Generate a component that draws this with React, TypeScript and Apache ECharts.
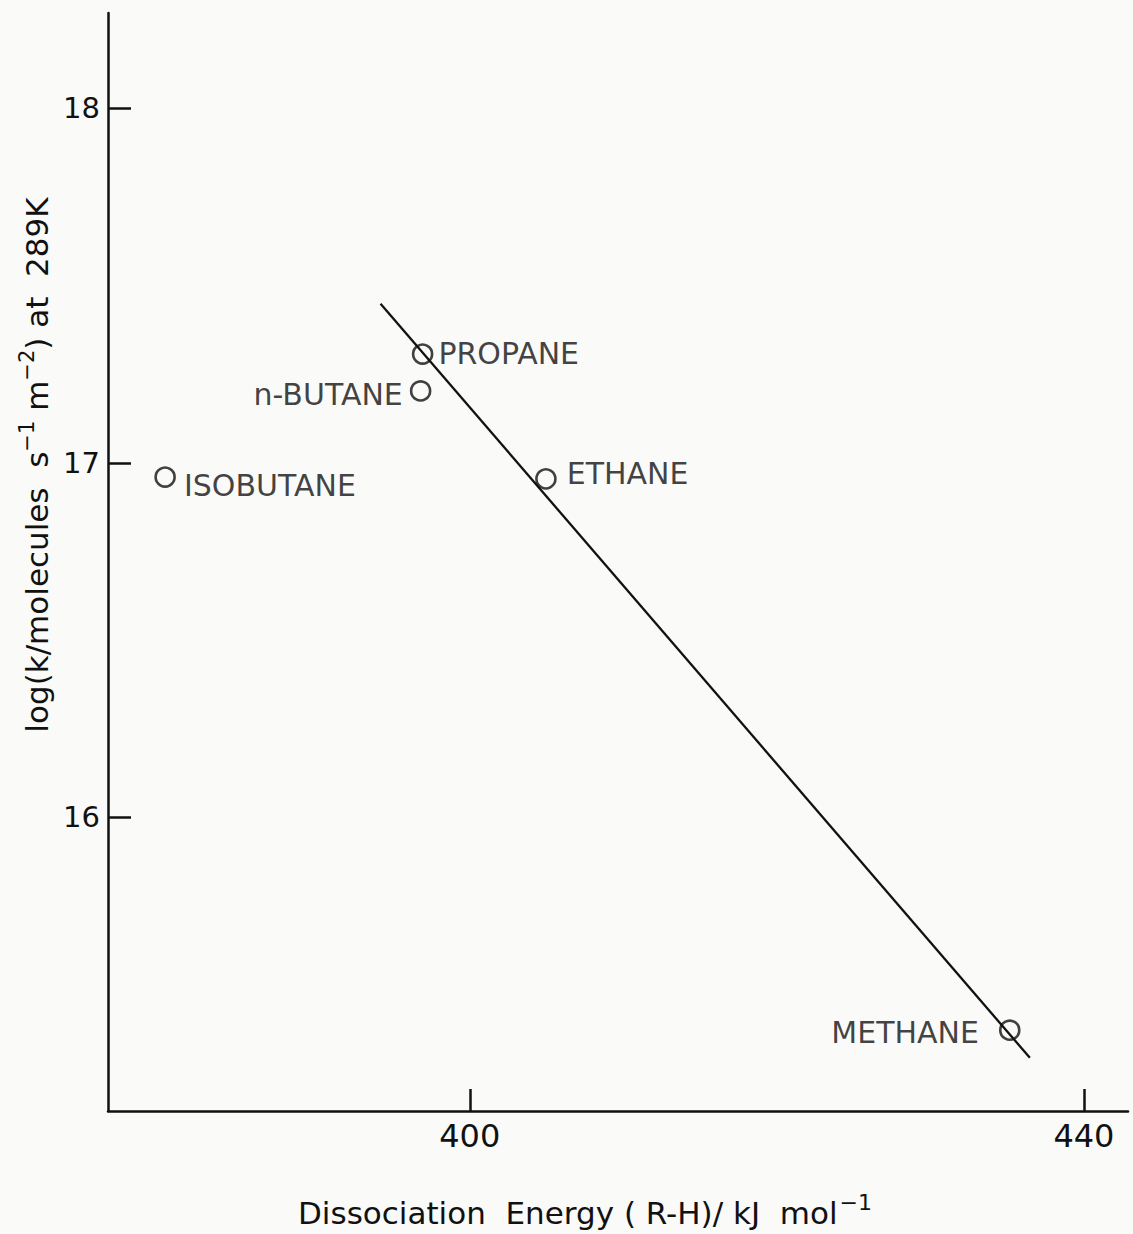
import React, { useEffect, useRef } from "react";
import * as echarts from "echarts";

// ---- data ----
const compounds = ["PROPANE", "n-BUTANE", "ISOBUTANE", "ETHANE", "METHANE"];
const dissociationEnergy = [396.93, 396.8, 380.16, 404.96, 435.17]; // kJ/mol
const logRate = [17.307, 17.203, 16.96, 16.955, 15.4];
const fitLineEnergy = [394.19, 436.48];
const fitLineLogRate = [17.449, 15.322];
const xTickValues = [400, 440];
const yTickValues = [16, 17, 18];

// ---- label placement (style, not data) ----
const labelSide = ["right", "left", "right", "right", "left"];
const labelOffsetY = [-1, 4, 8, -5, 2];
const labelDist = [5, 7, 8, 10, 20];

const INK = "#111111";
const FONT = "'DejaVu Sans', 'Noto Sans', sans-serif";

export default function App() {
  const ref = useRef<HTMLDivElement>(null);

  useEffect(() => {
    document.body.style.margin = "0";
    if (!ref.current) return;
    const chart = echarts.init(ref.current, null, { renderer: "svg" });

    const scatterData = compounds.map((name, i) => ({
      name,
      value: [dissociationEnergy[i], logRate[i]],
      label: {
        show: true,
        position: labelSide[i] as any,
        distance: labelDist[i],
        offset: [0, labelOffsetY[i]],
      },
    }));

    chart.setOption({
      animation: false,
      backgroundColor: "#fafaf9",
      grid: { left: 108, right: 5, top: 13, bottom: 123, containLabel: false },
      xAxis: {
        type: "value",
        min: 376.44,
        max: 442.87,
        axisLine: { show: true, lineStyle: { color: INK, width: 2.5 } },
        axisTick: {
          show: true,
          inside: true,
          length: 22,
          customValues: xTickValues,
          lineStyle: { color: INK, width: 2.5 },
        },
        axisLabel: {
          show: true,
          customValues: xTickValues,
          margin: 9,
          color: INK,
          fontSize: 32,
          fontFamily: FONT,
        },
        splitLine: { show: false },
        name: "Dissociation  Energy ( R-H)/ kJ  mol{sup|−1}",
        nameLocation: "middle",
        nameGap: 80,
        nameTextStyle: {
          color: INK,
          fontSize: 31,
          fontFamily: FONT,
          padding: [0, 66, 0, 0],
          rich: {
            sup: { fontSize: 22, color: INK, fontFamily: FONT, padding: [0, 0, 22, 2] },
          },
        },
      },
      yAxis: {
        type: "value",
        min: 15.172,
        max: 18.269,
        axisLine: { show: true, lineStyle: { color: INK, width: 2.5 } },
        axisTick: {
          show: true,
          inside: true,
          length: 23,
          customValues: yTickValues,
          lineStyle: { color: INK, width: 2.5 },
        },
        axisLabel: {
          show: true,
          customValues: yTickValues,
          margin: 8,
          color: INK,
          fontSize: 29,
          fontFamily: FONT,
        },
        splitLine: { show: false },
        name: "log(k/molecules  s{sup|−1} m{sup|−2}) at  289K",
        nameLocation: "middle",
        nameRotate: 90,
        nameGap: 46,
        nameTextStyle: {
          color: INK,
          fontSize: 31,
          fontFamily: FONT,
          padding: [0, 0, 0, 194],
          rich: {
            sup: { fontSize: 21, color: INK, fontFamily: FONT, padding: [0, 0, 20, 0] },
          },
        },
      },
      series: [
        {
          type: "line",
          data: fitLineEnergy.map((x, i) => [x, fitLineLogRate[i]]),
          symbol: "none",
          lineStyle: { color: INK, width: 2.3 },
          z: 2,
        },
        {
          type: "scatter",
          data: scatterData,
          symbol: "circle",
          symbolSize: 19,
          itemStyle: { color: "rgba(0,0,0,0)", borderColor: INK, borderWidth: 2.6 },
          label: {
            show: true,
            formatter: "{b}",
            color: INK,
            fontSize: 30,
            fontFamily: FONT,
          },
          z: 3,
        },
      ],
    });

    return () => chart.dispose();
  }, []);

  return <div ref={ref} style={{ width: 1133, height: 1234 }} />;
}
